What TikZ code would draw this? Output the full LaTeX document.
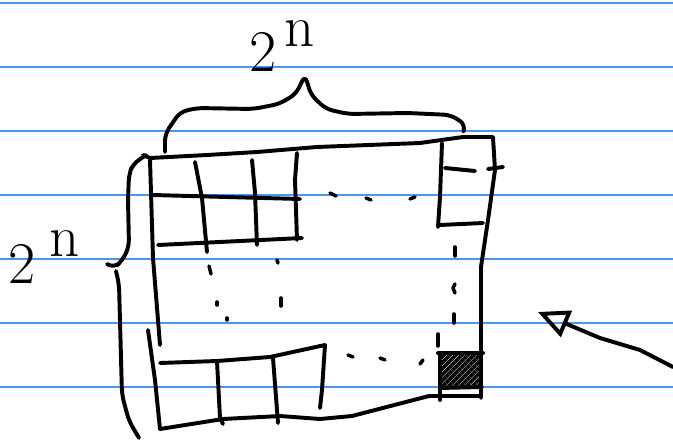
\documentclass[tikz,border=0pt]{standalone}
\usetikzlibrary{arrows.meta,patterns.meta}
\definecolor{ruleblue}{RGB}{80,150,232}

\begin{document}
\begin{tikzpicture}[
    x=0.025cm, y=-0.025cm,
    pen/.style={line width=2.8pt, line cap=round, line join=round},
    dot/.style={pen, line width=2.5pt},
    curvy/.style={pen, rounded corners=5pt},
    ruling/.style={ruleblue, line width=0.9pt},
    lbl/.style={font=\fontsize{42}{42}\selectfont, inner sep=0pt}
]
  \useasboundingbox (0,0) rectangle (673,441);
  % ruled paper
  \foreach \ry in {3,67,131,195,259,323,387}
    \draw[ruling] (0,\ry) -- (673,\ry);

  % outer square
  \draw[pen] (143,155) -- (150,158) -- (207,155) -- (257,152) -- (317,147) -- (420,143)
    -- (463,137) -- (493,137) -- (495,170) -- (488,220) -- (481,267) -- (481,398);
  \draw[pen] (150,160) -- (153,258) -- (160,345);
  \draw[pen] (148,330) -- (155,380) -- (160,429) -- (223,419) -- (280,416) -- (320,419)
    -- (352,416) -- (429,396) -- (481,396);

  % top left cells
  \draw[pen] (153,195) -- (300,199);
  \draw[pen] (158,245) -- (302,238);
  \draw[pen] (195,162) -- (202,198) -- (207,252);
  \draw[pen] (252,160) -- (255,193) -- (257,245);
  \draw[pen] (297,153) -- (295,180) -- (297,240);

  % top right cell
  \draw[pen] (442,143) -- (440,197) -- (438,227);
  \draw[pen] (445,168) -- (475,171);
  \draw[pen] (488,169) -- (503,167);
  \draw[pen] (440,225) -- (483,223);

  % bottom left cells
  \draw[pen] (160,363) -- (217,361) -- (270,357) -- (325,345);
  \draw[pen] (217,361) -- (220,418) -- (223,424);
  \draw[pen] (273,358) -- (278,423);
  \draw[pen] (325,345) -- (322,390) -- (320,408);

  % bottom right cell
  \fill[pattern={Lines[angle=45, distance=3pt, line width=2.6pt]}]
    (440,355) rectangle (481,388);
  \draw[pen] (438,353) -- (483,353);
  \draw[pen] (440,355) -- (440,400);
  \draw[pen] (440,388) -- (482,387);

  % dots
  \draw[dot] (330,193) -- (336,196);
  \draw[dot] (366,198) -- (371,200);
  \draw[dot] (410,199) -- (415,197);
  \draw[dot] (348,355) -- (353,357);
  \draw[dot] (380,358) -- (385,360);
  \draw[dot] (420,364) -- (423,360);
  \draw[dot] (455,247) -- (455,256);
  \draw[dot] (455,284) -- (453,288) -- (455,293);
  \draw[dot] (454,314) -- (454,323);
  \draw[dot] (438,334) -- (438,346);
  \draw[dot] (209,266) -- (211,274);
  \draw[dot] (217,302) -- (217,305);
  \draw[dot] (227,318) -- (227,320);
  \draw[dot] (277,260) -- (278,263);
  \draw[dot] (281,298) -- (281,306);

  % braces
  \draw[curvy] (165,152) -- (165,134) -- (180,112) -- (197,108) -- (253,109) -- (279,104)
    -- (296,94) -- (305,75) -- (311,95) -- (326,109) -- (348,114) -- (408,113)
    -- (451,115) -- (466,125) -- (464,130);
  \draw[curvy] (146,155) -- (133,164) -- (129,174) -- (128,200) -- (129,247) -- (122,261)
    -- (114,268) -- (107,264);
  \draw[curvy] (116,271) -- (119,284) -- (122,395) -- (129,421) -- (139,438);

  % labels
  \node[lbl, anchor=base west] (topPower) at (249,71) {2\hspace{6pt}\raisebox{0.42em}{n}};
  \node[lbl, anchor=base west] (sidePower) at (8,283) {2\hspace{10pt}\raisebox{0.45em}{n}};

  % pointer
  \coordinate (arrowTail) at (673,367);
  \coordinate (arrowTip) at (538,312);
  \draw[pen, -{Triangle[open, length=22pt, width=20pt]}] (arrowTail) -- (640,350) -- (600,338) -- (arrowTip);
\end{tikzpicture}
\end{document}
